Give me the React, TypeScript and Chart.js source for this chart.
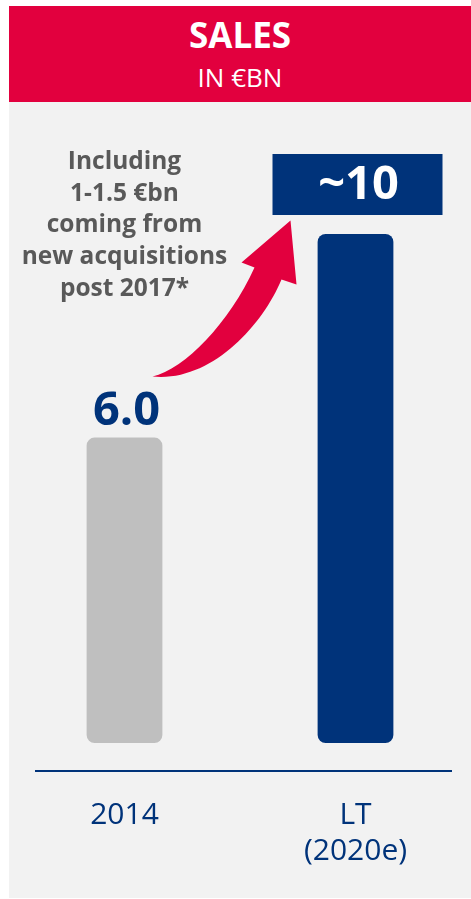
import { useEffect, useRef } from "react";
import { Chart, registerables } from "chart.js";

Chart.register(...registerables);

// ---- data ----
const categories: string[][] = [["2014"], ["LT", "(2020e)"]];
const salesValues: number[] = [6.0, 10];
const valueLabels: string[] = ["6.0", "~10"];
const noteLines: string[] = ["Including", "1-1.5 €bn", "coming from", "new acquisitions", "post 2017*"];
const titleText = "SALES";
const subtitleText = "IN €BN";

// ---- styles ----
const NAVY = "#00337a";
const RED = "#e2003e";
const GREY_BAR = "#bfbfbf";
const PANEL = "#f2f2f2";
const NOTE = "#595959";
const FONT = "'Open Sans', 'DejaVu Sans', sans-serif";

const overlayPlugin = {
  id: "overlay",
  afterDatasetsDraw(chart: any) {
    const ctx: CanvasRenderingContext2D = chart.ctx;
    const area = chart.chartArea;
    const bars = chart.getDatasetMeta(0).data;
    const b0 = bars[0];
    const b1 = bars[1];
    ctx.save();

    // axis line
    ctx.strokeStyle = NAVY;
    ctx.lineWidth = 2;
    ctx.beginPath();
    ctx.moveTo(area.left + 26, area.bottom + 28);
    ctx.lineTo(area.right - 19, area.bottom + 28);
    ctx.stroke();

    // value label for first bar
    ctx.fillStyle = NAVY;
    ctx.font = `bold 47px ${FONT}`;
    ctx.textAlign = "center";
    ctx.textBaseline = "alphabetic";
    ctx.fillText(valueLabels[0], b0.x + 2, b0.y - 13);

    // boxed label for second bar
    const boxW = 170;
    const boxH = 61;
    const boxBottom = b1.y - 19;
    const boxCx = b1.x + 2;
    ctx.fillStyle = NAVY;
    ctx.fillRect(boxCx - boxW / 2, boxBottom - boxH, boxW, boxH);
    ctx.fillStyle = "#ffffff";
    ctx.font = `bold 47px ${FONT}`;
    ctx.fillText(valueLabels[1], boxCx + 1, boxBottom - 16);

    // note text
    ctx.fillStyle = NOTE;
    ctx.font = `bold 24.5px ${FONT}`;
    const noteTop = area.top - 65;
    noteLines.forEach((line, i) => {
      ctx.fillText(line, b0.x, noteTop + i * 31.7);
    });

    // curved arrow (anchored to first bar top)
    const ox = b0.x;
    const oy = b0.y;
    const p = (dx: number, dy: number): [number, number] => [ox + dx, oy + dy];
    const A = p(28, -61);
    const C1 = p(60, -68);
    const C2 = p(105, -115);
    const H1 = p(130, -170);
    const L = p(117, -175);
    const T = p(166, -217);
    const R = p(172, -153);
    const H2 = p(157, -158);
    const C3 = p(137, -110);
    const C4 = p(85, -55);
    ctx.fillStyle = RED;
    ctx.beginPath();
    ctx.moveTo(A[0], A[1]);
    ctx.bezierCurveTo(C1[0], C1[1], C2[0], C2[1], H1[0], H1[1]);
    ctx.lineTo(L[0], L[1]);
    ctx.lineTo(T[0], T[1]);
    ctx.lineTo(R[0], R[1]);
    ctx.lineTo(H2[0], H2[1]);
    ctx.bezierCurveTo(C3[0], C3[1], C4[0], C4[1], A[0], A[1]);
    ctx.closePath();
    ctx.fill();

    ctx.restore();
  },
};

export default function App() {
  const canvasRef = useRef<HTMLCanvasElement | null>(null);

  useEffect(() => {
    document.body.style.margin = "0";
    const canvas = canvasRef.current;
    if (!canvas) return;
    const chart = new Chart(canvas, {
      type: "bar",
      data: {
        labels: categories,
        datasets: [
          {
            data: salesValues,
            backgroundColor: [GREY_BAR, NAVY],
            borderRadius: 8,
            borderSkipped: false,
            categoryPercentage: 1,
            barPercentage: 0.328,
          },
        ],
      },
      options: {
        responsive: false,
        animation: false,
        devicePixelRatio: 1,
        layout: { padding: { top: 234, left: 9, right: 0, bottom: 0 } },
        plugins: {
          legend: { display: false },
          tooltip: { enabled: false },
          title: { display: false },
        },
        scales: {
          x: {
            grid: { display: false, drawTicks: false },
            border: { display: false },
            afterFit: (scale: any) => {
              scale.height = 156;
            },
            ticks: {
              color: NAVY,
              font: { family: FONT, size: 30, lineHeight: 1.2 },
              padding: 54,
              maxRotation: 0,
              autoSkip: false,
            },
          },
          y: { display: false, min: 0, max: 10 },
        },
      },
      plugins: [overlayPlugin],
    });
    return () => chart.destroy();
  }, []);

  return (
    <div style={{ position: "relative", width: 471, height: 899, overflow: "hidden" }}>
      <div
        style={{
          position: "absolute",
          left: 9,
          top: 6,
          width: 462,
          height: 96,
          background: RED,
          color: "#ffffff",
          fontFamily: FONT,
          textAlign: "center",
        }}
      >
        <div style={{ position: "absolute", left: 0, right: 0, top: 11, fontSize: 35, lineHeight: "35px", fontWeight: 700 }}>
          {titleText}
        </div>
        <div style={{ position: "absolute", left: 0, right: 0, top: 58, fontSize: 26, lineHeight: "26px", fontWeight: 400 }}>
          {subtitleText}
        </div>
      </div>
      <div style={{ position: "absolute", left: 9, top: 102, width: 462, height: 796, background: PANEL }} />
      <canvas
        ref={canvasRef}
        width={471}
        height={899}
        style={{ position: "absolute", left: 0, top: 0, width: 471, height: 899 }}
      />
    </div>
  );
}
